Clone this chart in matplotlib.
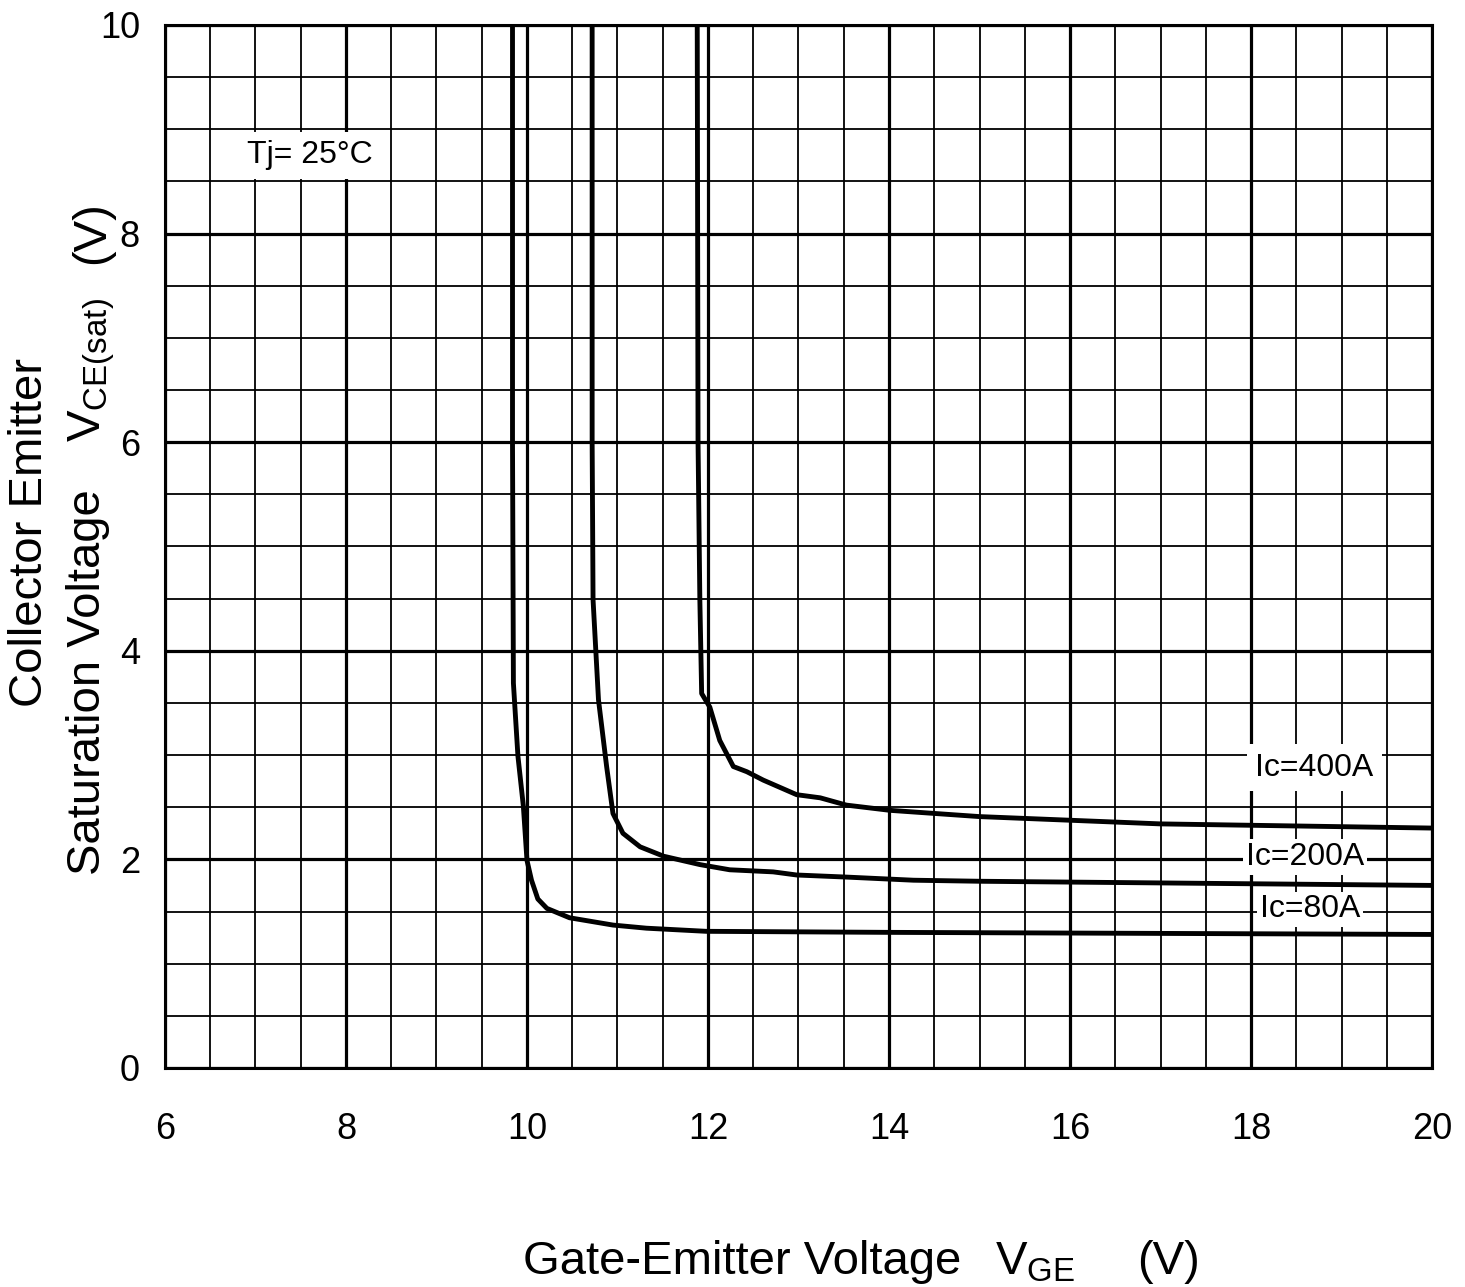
import numpy as np
import matplotlib
matplotlib.use("Agg")
import matplotlib.pyplot as plt

plt.rcParams['font.family'] = ['Liberation Sans', 'DejaVu Sans']
plt.rcParams['mathtext.fontset'] = 'custom'
plt.rcParams['mathtext.rm'] = 'Liberation Sans'

# curve data (VGE in V, VCE(sat) in V)
vge_80 = [9.84, 9.84, 9.85, 9.90, 9.96, 10.00, 10.05, 10.12, 10.22, 10.47, 10.95, 11.32, 11.98, 14.0, 17.0, 20.0]
vce_80 = [10.5, 6.0, 3.69, 2.99, 2.51, 1.99, 1.80, 1.62, 1.53, 1.44, 1.37, 1.34, 1.31, 1.30, 1.29, 1.28]

vge_200 = [10.72, 10.72, 10.73, 10.79, 10.88, 10.95, 11.06, 11.25, 11.51, 11.91, 12.24, 12.72, 12.98, 13.53, 14.27, 15.0, 17.5, 20.0]
vce_200 = [10.5, 6.0, 4.49, 3.53, 2.89, 2.44, 2.25, 2.12, 2.03, 1.95, 1.90, 1.88, 1.85, 1.83, 1.80, 1.79, 1.77, 1.75]

vge_400 = [11.88, 11.89, 11.91, 11.93, 12.02, 12.13, 12.28, 12.43, 12.61, 12.98, 13.24, 13.53, 14.01, 15.0, 17.0, 20.0]
vce_400 = [10.5, 6.0, 4.49, 3.59, 3.46, 3.14, 2.89, 2.84, 2.76, 2.62, 2.59, 2.52, 2.47, 2.41, 2.34, 2.30]

x_ticks = [6, 8, 10, 12, 14, 16, 18, 20]
y_ticks = [0, 2, 4, 6, 8, 10]

fig = plt.figure(figsize=(14.65, 12.87), dpi=100)
ax = fig.add_axes([0.1126, 0.1702, 0.8649, 0.8104])

ax.set_xlim(6, 20)
ax.set_ylim(0, 10)

# grid: minor every 0.5 V, major every 2 V
ax.set_xticks(x_ticks)
ax.set_yticks(y_ticks)
ax.set_xticks(np.arange(6, 20.01, 0.5), minor=True)
ax.set_yticks(np.arange(0, 10.01, 0.5), minor=True)
ax.grid(which='minor', color='black', lw=1.3)
ax.grid(which='major', color='black', lw=2.3)
ax.set_axisbelow(True)

for sp in ax.spines.values():
    sp.set_linewidth(2.2)

ax.tick_params(which='both', length=0)
ax.tick_params(axis='x', labelsize=26, pad=32)
ax.tick_params(axis='y', labelsize=26, pad=18)

for xs, ys in [(vge_80, vce_80), (vge_200, vce_200), (vge_400, vce_400)]:
    ax.plot(xs, ys, color='black', lw=3.5, solid_joinstyle='round', zorder=3)

box = dict(facecolor='white', edgecolor='none', pad=6)
ax.text(7.6, 8.75, 'Tj= 25°C', fontsize=23, ha='center', va='center', bbox=box, zorder=4)
ax.text(18.7, 2.88, 'Ic=400A', fontsize=23, ha='center', va='center', bbox=box, zorder=4)
ax.text(18.6, 2.02, 'Ic=200A', fontsize=23, ha='center', va='center',
        bbox=dict(facecolor='white', edgecolor='none', pad=2), zorder=4)
ax.text(18.65, 1.52, 'Ic=80A', fontsize=23, ha='center', va='center',
        bbox=dict(facecolor='white', edgecolor='none', pad=2), zorder=4)

# y label: two rotated lines plus symbol and unit
fig.text(30 / 1465, 1 - 532 / 1287, 'Collector Emitter', rotation=90, fontsize=34, ha='center', va='center')
fig.text(88 / 1465, 1 - 682 / 1287, 'Saturation Voltage', rotation=90, fontsize=34, ha='center', va='center')
fig.text(92 / 1465, 1 - 370 / 1287, r'$\mathregular{V_{CE(sat)}}$', rotation=90, fontsize=34, ha='center', va='center')
fig.text(92 / 1465, 1 - 233 / 1287, '(V)', rotation=90, fontsize=34, ha='center', va='center')

# x label
fig.text(742 / 1465, 1 - 1262 / 1287, 'Gate-Emitter Voltage', fontsize=34, ha='center', va='center')
fig.text(1035 / 1465, 1 - 1262 / 1287, r'$\mathregular{V_{GE}}$', fontsize=34, ha='center', va='center')
fig.text(1168 / 1465, 1 - 1262 / 1287, '(V)', fontsize=34, ha='center', va='center')

fig.savefig('out.png', dpi=100)
